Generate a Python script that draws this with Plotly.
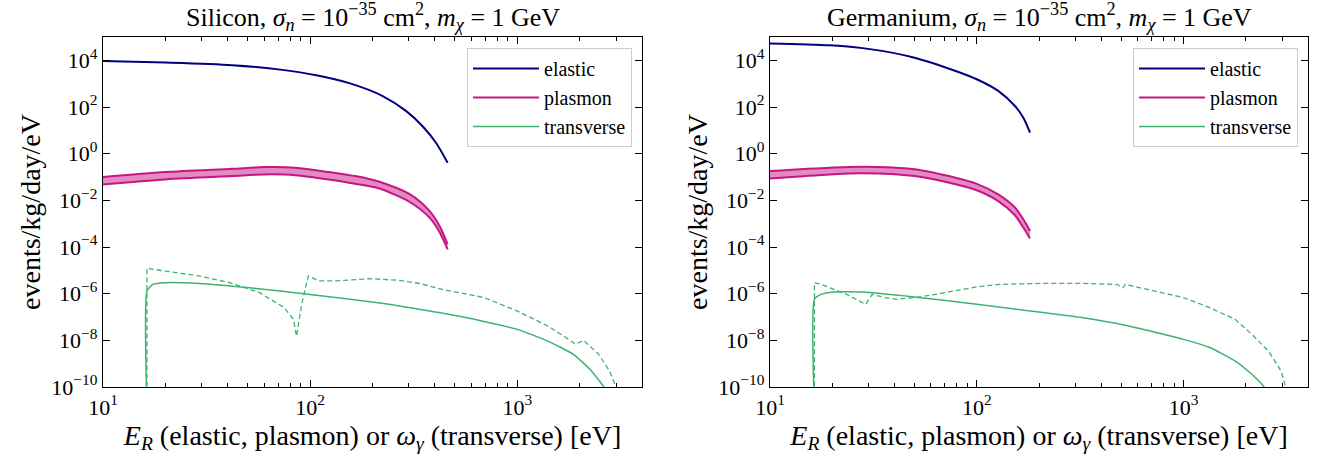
import plotly.graph_objects as go

# ---------------- data ----------------
# Silicon
si_el_x = [10, 20, 42, 73.5, 107, 154.5, 224, 290, 349, 405, 461]
si_el_y = [9300, 8000, 6200, 3900, 2300, 1050, 295, 68, 15, 2.95, 0.41]

si_pl_x = [10, 20, 42, 60, 85, 123, 186, 216, 301, 376, 421, 461]
si_pl_hi = [0.1, 0.162, 0.224, 0.266, 0.251, 0.162, 0.089, 0.063, 0.019, 0.0036, 0.00081, 0.000132]
si_pl_lo = [0.048, 0.079, 0.11, 0.129, 0.12, 0.079, 0.043, 0.032, 0.0087, 0.00186, 0.00044, 0.0000794]

si_tr_x = [16.3, 16.3, 17.4, 20, 29, 51, 100, 213, 341, 548, 1000, 1405, 1864, 2240, 2618, 2700]
si_tr_y = [1e-11, 1.3e-6, 2.5e-6, 2.95e-6, 2.75e-6, 1.8e-6, 9.3e-7, 4.1e-7, 2.1e-7, 1.0e-7,
           2.95e-8, 9.3e-9, 2.5e-9, 5.75e-10, 1e-10, 5e-11]

si_trd_x = [16.3, 16.3, 20, 29, 41, 57, 75, 83, 86, 91, 98, 102, 110, 133, 194, 270, 341,
            431, 548, 692, 1000, 1405, 1700, 1910, 2090, 2472, 2786, 3020, 3100]
si_trd_y = [1e-11, 1.23e-5, 9.3e-6, 5.75e-6, 2.95e-6, 1.1e-6, 2.5e-7, 7.9e-8, 1.5e-8, 3.5e-7,
            5.75e-6, 4.9e-6, 3.5e-6, 3.5e-6, 4.4e-6, 3.7e-6, 2.7e-6, 1.55e-6, 1.0e-6, 6.8e-7,
            1.8e-7, 4.1e-8, 1.4e-8, 6.8e-9, 1.0e-8, 2.5e-9, 4.9e-10, 1e-10, 5e-11]

# Germanium
ge_el_x = [10, 19.5, 31, 50, 79, 100, 127, 153, 168, 181]
ge_el_y = [5.3e4, 4.4e4, 2.95e4, 1.3e4, 3.5e3, 1.55e3, 490, 110, 35, 8]

ge_pl_x = [10, 19.5, 28, 50, 79, 100, 127, 153, 168, 181]
ge_pl_hi = [0.18, 0.25, 0.275, 0.214, 0.093, 0.051, 0.018, 0.0049, 0.00155, 0.00049]
ge_pl_lo = [0.087, 0.129, 0.145, 0.11, 0.049, 0.027, 0.0093, 0.0023, 0.00068, 0.00023]

ge_tr_x = [16.4, 16.4, 17.7, 20.4, 28, 50, 100, 204, 327, 523, 1000, 1340, 1778, 2140, 2450, 2520]
ge_tr_y = [1e-11, 5.75e-7, 9.3e-7, 1.17e-6, 1.17e-6, 7.2e-7, 3.5e-7, 1.6e-7, 9.3e-8, 4.4e-8,
           1.1e-8, 4.9e-9, 1.3e-9, 3.5e-10, 1e-10, 5e-11]

ge_trd_x = [16.4, 16.4, 17.7, 20.4, 23.5, 27, 29, 31.2, 36, 41, 50, 63, 80, 100, 128, 204, 327,
            476, 510, 523, 661, 1000, 1340, 1778, 2140, 2580, 2970, 3120, 3180]
ge_trd_y = [1e-11, 2.95e-6, 2.5e-6, 1.55e-6, 9.3e-7, 4.9e-7, 3.5e-7, 9.3e-7, 6.8e-7, 5.75e-7,
            6.8e-7, 9.3e-7, 1.38e-6, 1.95e-6, 2.5e-6, 2.75e-6, 2.75e-6, 2.5e-6, 1.8e-6, 2.5e-6,
            1.55e-6, 6.8e-7, 2.5e-7, 7.9e-8, 1.8e-8, 3.4e-9, 4.7e-10, 1e-10, 5e-11]

titles = ["Silicon, <i>σ</i><sub><i>n</i></sub> = 10<sup>−35</sup> cm<sup>2</sup>, <i>m</i><sub><i>χ</i></sub> = 1 GeV",
          "Germanium, <i>σ</i><sub><i>n</i></sub> = 10<sup>−35</sup> cm<sup>2</sup>, <i>m</i><sub><i>χ</i></sub> = 1 GeV"]
x_title = "<i>E</i><sub><i>R</i></sub> (elastic, plasmon) or <i>ω</i><sub><i>γ</i></sub> (transverse) [eV]"
y_title = "events/kg/day/eV"

x_tickvals = [10, 100, 1000]
x_ticktext = ["10<sup>1</sup>", "10<sup>2</sup>", "10<sup>3</sup>"]
y_tickvals = [1e-10, 1e-8, 1e-6, 1e-4, 1e-2, 1, 1e2, 1e4]
y_ticktext = ["10<sup>−10</sup>", "10<sup>−8</sup>", "10<sup>−6</sup>", "10<sup>−4</sup>",
              "10<sup>−2</sup>", "10<sup>0</sup>", "10<sup>2</sup>", "10<sup>4</sup>"]

# ---------------- styling ----------------
FONT = "'Liberation Serif', 'DejaVu Serif', 'Times New Roman', serif"
C_EL = "#000080"
C_PL = "#c71585"
C_PL_FILL = "rgba(199,21,133,0.5)"
C_TR = "#3cb371"

W, H = 1322, 464


def px_x(p):
    return p / W


def px_y(p):
    return 1 - p / H


dom_x = [[px_x(103), px_x(642)], [px_x(770), px_x(1308)]]
dom_y = [px_y(387), px_y(37)]

fig = go.Figure()

panels = [
    (si_el_x, si_el_y, si_pl_x, si_pl_hi, si_pl_lo, si_tr_x, si_tr_y, si_trd_x, si_trd_y),
    (ge_el_x, ge_el_y, ge_pl_x, ge_pl_hi, ge_pl_lo, ge_tr_x, ge_tr_y, ge_trd_x, ge_trd_y),
]

for i, (ex, ey, px, phi, plo, tx, ty, dx, dy) in enumerate(panels):
    xa = "x" if i == 0 else "x2"
    ya = "y" if i == 0 else "y2"
    lg = "legend" if i == 0 else "legend2"
    fig.add_trace(go.Scatter(x=ex, y=ey, mode="lines", name="elastic",
                             line=dict(color=C_EL, width=2, shape="spline", smoothing=0.8),
                             xaxis=xa, yaxis=ya, legend=lg))
    fig.add_trace(go.Scatter(x=px, y=plo, mode="lines", name="plasmon",
                             line=dict(color=C_PL, width=2, shape="spline", smoothing=0.8),
                             xaxis=xa, yaxis=ya, legend=lg))
    fig.add_trace(go.Scatter(x=px, y=phi, mode="lines", name="plasmon", fill="tonexty",
                             fillcolor=C_PL_FILL, showlegend=False,
                             line=dict(color=C_PL, width=2, shape="spline", smoothing=0.8),
                             xaxis=xa, yaxis=ya, legend=lg))
    fig.add_trace(go.Scatter(x=tx, y=ty, mode="lines", name="transverse",
                             line=dict(color=C_TR, width=1.5, shape="spline", smoothing=0.5),
                             xaxis=xa, yaxis=ya, legend=lg))
    fig.add_trace(go.Scatter(x=dx, y=dy, mode="lines", name="transverse", showlegend=False,
                             line=dict(color=C_TR, width=1.3, dash="5px,3px"),
                             xaxis=xa, yaxis=ya, legend=lg))

axis_common = dict(
    type="log", showgrid=False, zeroline=False, showline=True, linecolor="black",
    linewidth=1.3, mirror="allticks", ticks="inside", tickcolor="black", automargin=False,
    ticklen=7, tickwidth=1.2, tickfont=dict(family=FONT, size=22, color="black"),
)

for i in range(2):
    sfx = "" if i == 0 else "2"
    fig.layout["xaxis" + sfx] = dict(
        axis_common, domain=dom_x[i], anchor="y" + sfx,
        range=[1, 3.60206], tickvals=x_tickvals, ticktext=x_ticktext,
        minor=dict(ticks="inside", ticklen=4, tickwidth=1, tickcolor="black", dtick="D1"),
        title=dict(text=x_title, font=dict(family=FONT, size=28, color="black"), standoff=4),
    )
    fig.layout["yaxis" + sfx] = dict(
        axis_common, domain=dom_y, anchor="x" + sfx,
        range=[-10, 5], tickvals=y_tickvals, ticktext=y_ticktext,
        title=dict(text=y_title, font=dict(family=FONT, size=28, color="black"), standoff=2),
    )

leg_common = dict(
    bgcolor="white", bordercolor="#cccccc", borderwidth=1, traceorder="normal",
    font=dict(family=FONT, size=20, color="black"),
    xanchor="right", yanchor="top", tracegroupgap=0, itemwidth=66,
)
fig.update_layout(
    legend=dict(leg_common, x=px_x(632), y=px_y(48)),
    legend2=dict(leg_common, x=px_x(1298), y=px_y(48)),
)

for i in range(2):
    fig.add_annotation(text=titles[i], xref="paper", yref="paper",
                       x=(dom_x[i][0] + dom_x[i][1]) / 2, y=px_y(17),
                       xanchor="center", yanchor="middle", showarrow=False,
                       font=dict(family=FONT, size=26, color="black"))

fig.update_layout(
    width=W, height=H, margin=dict(l=0, r=0, t=0, b=0, autoexpand=False),
    paper_bgcolor="white", plot_bgcolor="white",
    font=dict(family=FONT, color="black"),
)

# remove the browser's default 8 px body margin so the figure fills the window
fig.write_html("out.html", config={"displayModeBar": False},
               post_script="document.body.style.margin='0px';")
